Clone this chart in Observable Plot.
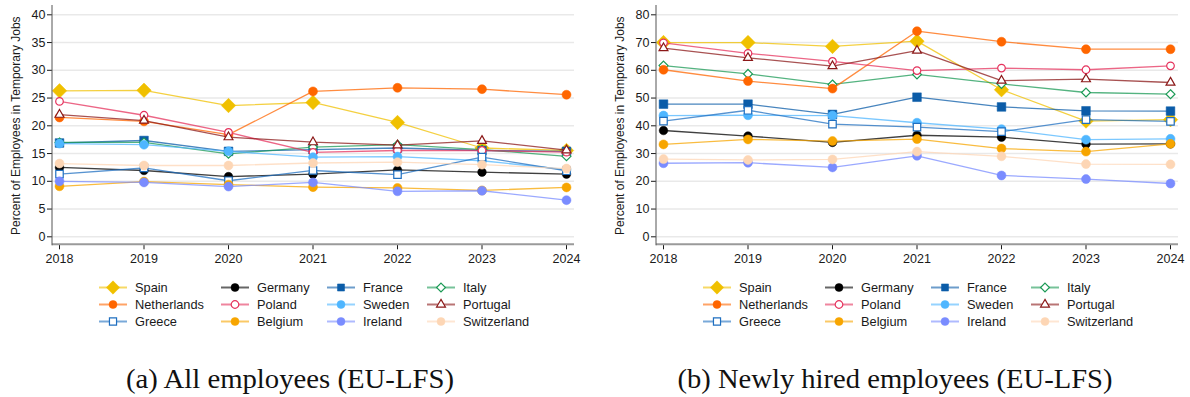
<!DOCTYPE html>
<html>
<head>
<meta charset="utf-8">
<script src="https://cdn.jsdelivr.net/npm/d3@7"></script>
<script src="https://cdn.jsdelivr.net/npm/@observablehq/plot@0.6"></script>
<style>
  body { margin: 0; background: #fff; width: 1190px; height: 397px; overflow: hidden; position: relative; }
  .panel { position: absolute; top: 0; }
  #overlay { position: absolute; left: 0; top: 0; pointer-events: none; }
</style>
</head>
<body>
<div id="panelA" class="panel" style="left:0px"></div>
<div id="panelB" class="panel" style="left:604px"></div>
<svg id="overlay" width="1190" height="397"></svg>
<script>
// Years on the x axis
const years = [2018, 2019, 2020, 2021, 2022, 2023, 2024];

// Countries in legend order (row by row)
const countries = ["Spain", "Germany", "France", "Italy",
                   "Netherlands", "Poland", "Sweden", "Portugal",
                   "Greece", "Belgium", "Ireland", "Switzerland"];

const colors = ["#f0c000", "#000000", "#0b5ca8", "#1b9a55",
                "#ff6600", "#e5335d", "#4fb6ff", "#8b1818",
                "#1f6fc0", "#f7a500", "#7a8cff", "#fdd6b5"];

const symbols = ["diamond2", "circle", "square", "diamond2",
                 "circle", "circle", "circle", "triangle",
                 "square", "circle", "circle", "circle"];

const hollow = [false, false, false, true,
                false, true, false, true,
                true, false, false, false];

const markerR = [6.5, 4.3, 4.9, 4.0,
                 4.5, 3.8, 4.5, 3.3,
                 4.2, 4.5, 4.5, 4.5];

// Share of all employees in temporary jobs (%), one row per country
const allEmployees = [
  [26.3, 26.4, 23.65, 24.2, 20.6, 16.0, 15.55],   // Spain
  [12.5, 11.95, 10.85, 11.3, 12.05, 11.65, 11.3], // Germany
  [16.9, 17.35, 15.4, 15.7, 16.0, 15.55, 15.4],   // France
  [17.0, 17.0, 14.95, 16.15, 16.6, 15.7, 14.5],   // Italy
  [21.5, 20.8, 18.4, 26.2, 26.85, 26.6, 25.6],    // Netherlands
  [24.4, 21.9, 18.8, 15.2, 15.55, 15.55, 15.25],  // Poland
  [16.8, 16.6, 15.4, 14.35, 14.45, 13.7, 12.1],   // Sweden
  [22.0, 20.95, 17.95, 17.05, 16.5, 17.3, 15.6],  // Portugal
  [11.3, 12.4, 10.1, 11.95, 11.2, 14.35, 11.9],   // Greece
  [9.1, 9.95, 9.4, 8.95, 8.8, 8.35, 8.9],         // Belgium
  [10.0, 9.8, 9.05, 9.8, 8.2, 8.3, 6.6],          // Ireland
  [13.2, 12.85, 12.85, 13.3, 13.45, 13.0, 12.3]   // Switzerland
];

// Share of newly hired employees in temporary jobs (%)
const newlyHired = [
  [70.0, 70.0, 68.6, 70.5, 53.0, 41.7, 42.2],     // Spain
  [38.3, 36.3, 34.0, 36.6, 35.9, 33.4, 33.5],     // Germany
  [47.8, 47.8, 44.1, 50.3, 46.8, 45.4, 45.3],     // France
  [61.7, 58.7, 54.9, 58.5, 55.1, 52.0, 51.4],     // Italy
  [60.2, 56.1, 53.4, 74.1, 70.3, 67.6, 67.6],     // Netherlands
  [69.9, 66.1, 63.2, 59.9, 60.8, 60.2, 61.6],     // Poland
  [43.7, 43.8, 43.7, 41.1, 38.8, 35.0, 35.3],     // Sweden
  [68.0, 64.5, 61.5, 67.1, 56.3, 56.8, 55.6],     // Portugal
  [41.7, 45.6, 40.6, 39.5, 37.9, 42.2, 41.6],     // Greece
  [33.3, 35.1, 34.5, 35.2, 31.8, 30.7, 33.5],     // Belgium
  [26.5, 26.7, 25.0, 29.2, 22.1, 20.8, 19.2],     // Ireland
  [28.0, 27.7, 27.9, 30.7, 29.0, 26.2, 26.1]      // Switzerland
];

const ticksA = [0, 5, 10, 15, 20, 25, 30, 35, 40];
const ticksB = [0, 10, 20, 30, 40, 50, 60, 70, 80];

const yTitle = "Percent of Employees in Temporary Jobs";
const captions = ["(a) All employees (EU-LFS)", "(b) Newly hired employees (EU-LFS)"];

const H = 270, ML = 52, MT = 5, MB = 25.7;

function drawPanel(el, values, yTicks, width, marginRight) {
  const marks = [Plot.ruleY(yTicks, {stroke: "#e9e9e9", strokeWidth: 1.5})];
  countries.forEach((c, i) => {
    const rows = years.map((yr, j) => ({year: yr, value: values[i][j]}));
    marks.push(Plot.line(rows, {x: "year", y: "value", stroke: colors[i], strokeWidth: 1.3, strokeOpacity: 0.75}));
    marks.push(Plot.dot(rows, {
      x: "year", y: "value", symbol: () => symbols[i], r: markerR[i],
      fill: hollow[i] ? "white" : colors[i],
      stroke: colors[i], strokeWidth: hollow[i] ? 1.2 : 0.5
    }));
  });
  const svg = Plot.plot({
    width, height: H,
    marginLeft: ML, marginRight, marginTop: MT, marginBottom: MB,
    style: {fontFamily: "'Liberation Sans', Arial, sans-serif", fontSize: "12.5px", color: "#1a1a1a", background: "white", overflow: "visible"},
    x: {domain: [2018, 2024], insetLeft: 7, insetRight: 8, ticks: years, tickFormat: d => String(d), tickSize: 5, label: null},
    y: {domain: [yTicks[0], yTicks[yTicks.length - 1]], insetTop: 9.3, insetBottom: 8, ticks: yTicks, tickSize: 5, tickPadding: 2, label: null},
    symbol: {type: "identity"},
    marks
  });
  const s = d3.select(svg);
  // axis lines
  s.append("line").attr("x1", ML).attr("x2", width - marginRight).attr("y1", H - MB).attr("y2", H - MB)
    .attr("stroke", "#9a9a9a").attr("stroke-width", 2);
  s.append("line").attr("x1", ML).attr("x2", ML).attr("y1", MT).attr("y2", H - MB + 1)
    .attr("stroke", "#555").attr("stroke-width", 1);
  // y axis title
  s.append("text").attr("transform", `translate(16,${(MT + H - MB) / 2 + 1}) rotate(-90)`)
    .attr("text-anchor", "middle").attr("dominant-baseline", "central")
    .attr("font-size", 12).attr("fill", "#1a1a1a").text(yTitle);
  el.appendChild(svg);
}

drawPanel(document.getElementById("panelA"), allEmployees, ticksA, 590, 16);
drawPanel(document.getElementById("panelB"), newlyHired, ticksB, 586, 12);

// Legends and captions
const overlay = d3.select("#overlay");
const colX = [99, 221, 327, 427];
const rowY = [287.5, 304.5, 321.5];
const symbolTypes = {diamond2: d3.symbolDiamond2, circle: d3.symbolCircle, square: d3.symbolSquare, triangle: d3.symbolTriangle};
const captionX = [290, 895];
const captionW = [328, 435];

[0, 604].forEach((offset, p) => {
  const g = overlay.append("g").attr("transform", `translate(${offset},0)`);
  countries.forEach((c, i) => {
    const x = colX[i % 4], y = rowY[Math.floor(i / 4)];
    const r = i === 0 ? 6.0 : Math.min(markerR[i], 4.0);
    g.append("line").attr("x1", x).attr("x2", x + 28).attr("y1", y).attr("y2", y)
      .attr("stroke", colors[i]).attr("stroke-width", 2).attr("stroke-opacity", 0.6);
    g.append("path").attr("transform", `translate(${x + 14},${y})`)
      .attr("d", d3.symbol(symbolTypes[symbols[i]], Math.PI * r * r)())
      .attr("fill", hollow[i] ? "white" : colors[i]).attr("stroke", colors[i]).attr("stroke-width", hollow[i] ? 1.2 : 0.5);
    g.append("text").attr("x", x + 36).attr("y", y).attr("dominant-baseline", "central")
      .attr("font-family", "'Liberation Sans', Arial, sans-serif").attr("font-size", 12.8).attr("fill", "#1a1a1a").text(c);
  });
  overlay.append("text").attr("x", captionX[p]).attr("y", 388).attr("text-anchor", "middle")
    .attr("font-family", "'Liberation Serif', 'Times New Roman', serif").attr("font-size", 26.5).attr("fill", "#111")
    .attr("textLength", captionW[p]).attr("lengthAdjust", "spacingAndGlyphs")
    .text(captions[p]);
});
</script>
</body>
</html>
